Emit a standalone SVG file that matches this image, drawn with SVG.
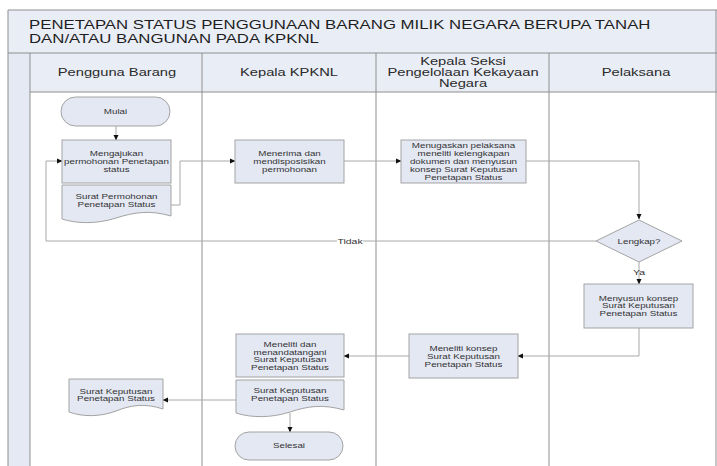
<svg xmlns="http://www.w3.org/2000/svg" width="717" height="466" viewBox="0 0 717 466">
<style>
text{font-family:"Liberation Sans",Arial,sans-serif;}
.title{font-size:12px;fill:#1e1e1e;}
.hd{font-size:10.5px;fill:#2a2a2a;text-anchor:middle;}
.bt{font-size:7px;fill:#333;text-anchor:middle;}
.lbl{font-size:7.5px;fill:#333;text-anchor:middle;}
.box{fill:#e3e8f3;stroke:#a3a3a3;stroke-width:1;}
.lane{stroke:#8f8f8f;stroke-width:1;fill:none;}
.con{stroke:#a8a8a8;stroke-width:1;fill:none;marker-end:url(#ah);}
.conn{stroke:#a8a8a8;stroke-width:1;fill:none;}
</style>
<defs>
<marker id="ah" markerWidth="6" markerHeight="6" refX="5" refY="3" orient="auto" markerUnits="userSpaceOnUse">
<path d="M0,0.5 L5.5,3 L0,5.5 Z" fill="#111"/>
</marker>
</defs>
<rect width="717" height="466" fill="#ffffff"/>
<g id="pool">
<rect x="8" y="10" width="709" height="43" fill="#e9edf6"/>
<rect x="8" y="53" width="22" height="413" fill="#e4e9f4"/>
<rect x="30" y="53" width="687" height="39" fill="#e9edf6"/>
<path class="lane" d="M8,466 V10 H717 M8,53 H717 M30,92 H717 M30,53 V466 M202,53 V466 M376,53 V466 M549,53 V466 M716,10 V466"/>
<text class="title" transform="translate(29,29.3) scale(1.4,1)">PENETAPAN STATUS PENGGUNAAN BARANG MILIK NEGARA BERUPA TANAH</text>
<text class="title" transform="translate(29,42.7) scale(1.4,1)">DAN/ATAU BANGUNAN PADA KPKNL</text>
<text class="hd" transform="translate(117,76) scale(1.4,1)">Pengguna Barang</text>
<text class="hd" transform="translate(289,76) scale(1.4,1)">Kepala KPKNL</text>
<text class="hd" transform="translate(463,64.5) scale(1.4,1)"><tspan x="0">Kepala Seksi</tspan><tspan x="0" dy="11.2">Pengelolaan Kekayaan</tspan><tspan x="0" dy="11.2">Negara</tspan></text>
<text class="hd" transform="translate(636,76) scale(1.4,1)">Pelaksana</text>
</g>
<g id="connectors">
<path class="con" d="M116,126 V140"/>
<path class="con" d="M171,205 H180 V161 H235"/>
<path class="con" d="M344,161 H401"/>
<path class="con" d="M526,161 H639 V219"/>
<path class="conn" d="M596,241 H363"/>
<path class="con" d="M337,241 H46 V161 H62"/>
<path class="con" d="M639,262 V284"/>
<path class="con" d="M639,328 V356 H518"/>
<path class="con" d="M409,356 H344"/>
<path class="con" d="M236,400 H163"/>
<path class="con" d="M290,413 V432"/>
<text class="lbl" transform="translate(350,243.6) scale(1.4,1)">Tidak</text>
<text class="lbl" transform="translate(639,274.5) scale(1.4,1)">Ya</text>
</g>
<g id="mulai">
<rect class="box" x="61" y="97" width="109" height="29" rx="14.5"/>
<text class="bt" transform="translate(115.5,113.5) scale(1.4,1)">Mulai</text>
</g>
<g id="mengajukan">
<rect class="box" x="62" y="140" width="109" height="43"/>
<text class="bt" transform="translate(116.5,155.8) scale(1.4,1)"><tspan x="0">Mengajukan</tspan><tspan x="0" dy="7.9">permohonan Penetapan</tspan><tspan x="0" dy="7.9">status</tspan></text>
</g>
<g id="surat-permohonan">
<path class="box" d="M62,185 H171 V216 C150,210 135,212 116,218 C97,224 78,224 62,219 Z"/>
<text class="bt" transform="translate(116.5,198.5) scale(1.4,1)"><tspan x="0">Surat Permohonan</tspan><tspan x="0" dy="8.7">Penetapan Status</tspan></text>
</g>
<g id="menerima">
<rect class="box" x="235" y="140" width="109" height="43"/>
<text class="bt" transform="translate(289.5,155.8) scale(1.4,1)"><tspan x="0">Menerima dan</tspan><tspan x="0" dy="7.9">mendisposisikan</tspan><tspan x="0" dy="7.9">permohonan</tspan></text>
</g>
<g id="menugaskan">
<rect class="box" x="401" y="140" width="125" height="43"/>
<text class="bt" transform="translate(463.5,148.2) scale(1.4,1)"><tspan x="0">Menugaskan pelaksana</tspan><tspan x="0" dy="7.9">meneliti kelengkapan</tspan><tspan x="0" dy="7.9">dokumen dan menyusun</tspan><tspan x="0" dy="7.9">konsep Surat Keputusan</tspan><tspan x="0" dy="7.9">Penetapan Status</tspan></text>
</g>
<g id="lengkap">
<path class="box" d="M639,220 L682,241 L639,262 L596,241 Z"/>
<text class="bt" transform="translate(639,243.5) scale(1.4,1)">Lengkap?</text>
</g>
<g id="menyusun">
<rect class="box" x="584" y="284" width="109" height="44"/>
<text class="bt" transform="translate(638.5,300.8) scale(1.4,1)"><tspan x="0">Menyusun konsep</tspan><tspan x="0" dy="7.6">Surat Keputusan</tspan><tspan x="0" dy="7.6">Penetapan Status</tspan></text>
</g>
<g id="meneliti-konsep">
<rect class="box" x="409" y="334" width="109" height="44"/>
<text class="bt" transform="translate(463.5,350.8) scale(1.4,1)"><tspan x="0">Meneliti konsep</tspan><tspan x="0" dy="7.9">Surat Keputusan</tspan><tspan x="0" dy="7.9">Penetapan Status</tspan></text>
</g>
<g id="meneliti-menandatangani">
<rect class="box" x="236" y="334" width="108" height="43"/>
<text class="bt" transform="translate(290,346.8) scale(1.4,1)"><tspan x="0">Meneliti dan</tspan><tspan x="0" dy="7.8">menandatangani</tspan><tspan x="0" dy="7.8">Surat Keputusan</tspan><tspan x="0" dy="7.8">Penetapan Status</tspan></text>
</g>
<g id="surat-keputusan-kpknl">
<path class="box" d="M236,380 H344 V410 C323,404 308,406 290,412 C271,418 252,418 236,413 Z"/>
<text class="bt" transform="translate(290,392.5) scale(1.4,1)"><tspan x="0">Surat Keputusan</tspan><tspan x="0" dy="8.3">Penetapan Status</tspan></text>
</g>
<g id="surat-keputusan-pengguna">
<path class="box" d="M69,379 H163 V409 C145,403 131,405 116,411 C100,417 83,417 69,412 Z"/>
<text class="bt" transform="translate(116,393.5) scale(1.4,1)"><tspan x="0">Surat Keputusan</tspan><tspan x="0" dy="7.5">Penetapan Status</tspan></text>
</g>
<g id="selesai">
<rect class="box" x="235" y="432" width="108" height="28" rx="14"/>
<text class="bt" transform="translate(289,448.2) scale(1.4,1)">Selesai</text>
</g>
</svg>
